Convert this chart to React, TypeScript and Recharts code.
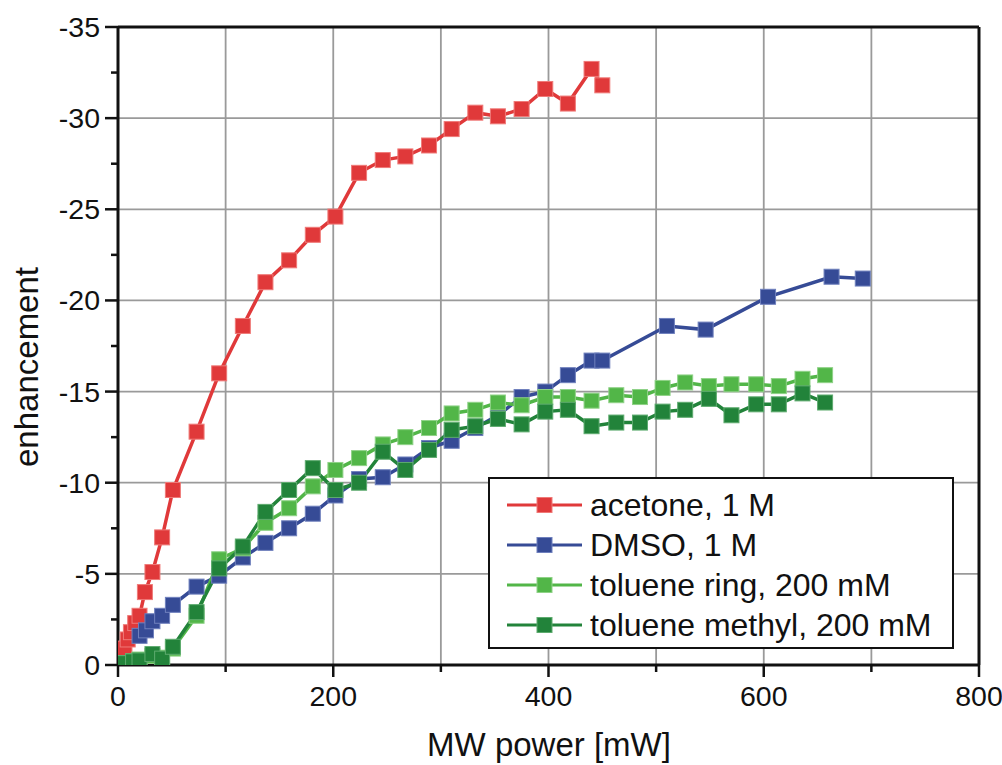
import React from "react";
import { LineChart, Line, XAxis, YAxis, CartesianGrid, ReferenceLine, Label } from "recharts";

// MW power [mW] and enhancement values
const acetonePower = [6, 9, 12, 16, 20, 25, 32, 41, 51, 73, 94, 116, 137, 159, 181, 202, 224, 246, 267, 289, 310, 332, 353, 375, 397, 418, 440, 450];
const acetoneEnh = [-0.9, -1.4, -1.8, -2.3, -2.7, -4.0, -5.1, -7.0, -9.6, -12.8, -16.0, -18.6, -21.0, -22.2, -23.6, -24.6, -27.0, -27.7, -27.9, -28.5, -29.4, -30.3, -30.1, -30.5, -31.6, -30.8, -32.7, -31.8];

const dmsoPower = [20, 26, 32, 41, 51, 73, 94, 116, 137, 159, 181, 202, 224, 246, 267, 289, 310, 332, 353, 375, 397, 418, 440, 450, 510, 546, 604, 663, 692];
const dmsoEnh = [-1.6, -1.9, -2.4, -2.7, -3.3, -4.3, -4.9, -5.9, -6.7, -7.5, -8.3, -9.3, -10.2, -10.3, -11.0, -11.9, -12.3, -13.0, -13.7, -14.7, -15.0, -15.9, -16.7, -16.7, -18.6, -18.4, -20.2, -21.3, -21.2];

const toluenePower = [5, 14, 20, 32, 41, 51, 73, 94, 116, 137, 159, 181, 202, 224, 246, 267, 289, 310, 332, 353, 375, 397, 418, 440, 463, 485, 506, 527, 549, 570, 593, 614, 636, 657];
const ringEnh = [-0.1, -0.2, -0.3, -0.5, -0.4, -0.9, -2.7, -5.8, -6.4, -7.8, -8.6, -9.8, -10.7, -11.35, -12.1, -12.5, -13.0, -13.8, -14.0, -14.4, -14.25, -14.7, -14.7, -14.5, -14.8, -14.7, -15.2, -15.5, -15.3, -15.4, -15.4, -15.3, -15.7, -15.9];
const methylEnh = [-0.1, -0.2, -0.25, -0.6, -0.35, -1.0, -2.9, -5.3, -6.5, -8.4, -9.6, -10.8, -9.6, -10.0, -11.7, -10.7, -11.8, -12.9, -13.1, -13.5, -13.2, -13.9, -14.0, -13.1, -13.3, -13.3, -13.9, -14.0, -14.6, -13.7, -14.3, -14.3, -14.9, -14.4];

const xTicks = [0, 100, 200, 300, 400, 500, 600, 700, 800];
const yTicks = [-35, -32.5, -30, -27.5, -25, -22.5, -20, -17.5, -15, -12.5, -10, -7.5, -5, -2.5, 0];
const xGrid = [100, 200, 300, 400, 500, 600, 700];
const yGrid = [-30, -25, -20, -15, -10, -5];

const toRows = (xs: number[], ys: number[]) => xs.map((x, i) => ({ x, y: ys[i] }));

const series = [
  { name: "acetone, 1 M", color: "#e0393a", edge: "#ef7a78", data: toRows(acetonePower, acetoneEnh) },
  { name: "DMSO, 1 M", color: "#364b96", edge: "#6f80bd", data: toRows(dmsoPower, dmsoEnh) },
  { name: "toluene ring, 200 mM", color: "#52b648", edge: "#8fd287", data: toRows(toluenePower, ringEnh) },
  { name: "toluene methyl, 200 mM", color: "#22833a", edge: "#5eab6f", data: toRows(toluenePower, methylEnh) },
];

const FONT = "'Liberation Sans', Arial, sans-serif";

const squareDot = (color: string, edge: string) => (props: any) => {
  const { cx, cy, index } = props;
  if (cx == null || cy == null) return <g key={index} />;
  return <rect key={index} x={cx - 7.5} y={cy - 7.5} width={15} height={15} fill={color} stroke={edge} strokeWidth={1} />;
};

const XTick = (props: any) => {
  const { x, y, payload } = props;
  const major = payload.value % 200 === 0;
  return (
    <g>
      <line x1={x} x2={x} y1={y} y2={y + (major ? 12 : 7)} stroke="#111" strokeWidth={2.5} />
      {major && (
        <text x={x} y={y + 41} textAnchor="middle" fontSize={28.5} fontFamily={FONT} fill="#111">
          {payload.value}
        </text>
      )}
    </g>
  );
};

const YTick = (props: any) => {
  const { x, y, payload } = props;
  const major = payload.value % 5 === 0;
  return (
    <g>
      <line x1={x} x2={x - (major ? 13 : 7)} y1={y} y2={y} stroke="#111" strokeWidth={2.5} />
      {major && (
        <text x={x - 18} y={y} textAnchor="end" dominantBaseline="central" fontSize={28.5} fontFamily={FONT} fill="#111">
          {payload.value}
        </text>
      )}
    </g>
  );
};

const LegendBox = () => (
  <div
    style={{
      position: "absolute",
      left: 488,
      top: 477,
      width: 466,
      height: 172,
      border: "2px solid #111",
      background: "#fff",
      boxSizing: "border-box",
      fontFamily: FONT,
    }}
  >
    {series.map((s, i) => (
      <div key={s.name} style={{ position: "absolute", left: 15, top: 6 + i * 40, height: 40, display: "flex", alignItems: "center" }}>
        <svg width={80} height={20}>
          <line x1={2} x2={77} y1={10} y2={10} stroke={s.color} strokeWidth={3} />
          <rect x={32} y={2.5} width={15} height={15} fill={s.color} stroke={s.edge} strokeWidth={1} />
        </svg>
        <span style={{ fontSize: 32, color: "#111", marginLeft: 5, whiteSpace: "nowrap" }}>{s.name}</span>
      </div>
    ))}
  </div>
);

export default function App() {
  return (
    <div style={{ position: "absolute", left: 0, top: 0, width: 1002, height: 765, background: "#fff" }}>
      <LineChart width={1002} height={765} margin={{ top: 27, right: 23, bottom: 0, left: 0 }}>
        <CartesianGrid horizontalValues={yGrid} verticalValues={xGrid} stroke="#9a9a9a" strokeWidth={1.8} />
        <XAxis
          type="number"
          dataKey="x"
          domain={[0, 800]}
          ticks={xTicks}
          interval={0}
          height={100}
          tickSize={0}
          tickMargin={0}
          tickLine={false}
          axisLine={{ stroke: "#111", strokeWidth: 3 }}
          tick={<XTick />}
          allowDataOverflow
        >
          <Label
            content={() => (
              <text x={549} y={756} textAnchor="middle" fontSize={33} fontFamily={FONT} fill="#111">
                MW power [mW]
              </text>
            )}
          />
        </XAxis>
        <YAxis
          type="number"
          dataKey="y"
          domain={[-35, 0]}
          reversed
          ticks={yTicks}
          interval={0}
          width={118}
          tickSize={0}
          tickMargin={0}
          tickLine={false}
          axisLine={{ stroke: "#111", strokeWidth: 3 }}
          tick={<YTick />}
          allowDataOverflow
        >
          <Label
            content={() => (
              <text
                x={26}
                y={367}
                transform="rotate(-90 26 367)"
                textAnchor="middle"
                dominantBaseline="central"
                fontSize={33}
                fontFamily={FONT}
                fill="#111"
              >
                enhancement
              </text>
            )}
          />
        </YAxis>
        <ReferenceLine y={-35} stroke="#111" strokeWidth={3} />
        <ReferenceLine x={800} stroke="#111" strokeWidth={3} />
        {series.map((s) => (
          <Line
            key={s.name}
            data={s.data}
            dataKey="y"
            name={s.name}
            stroke={s.color}
            strokeWidth={3.5}
            dot={squareDot(s.color, s.edge)}
            activeDot={false}
            isAnimationActive={false}
          />
        ))}
      </LineChart>
      <LegendBox />
    </div>
  );
}
